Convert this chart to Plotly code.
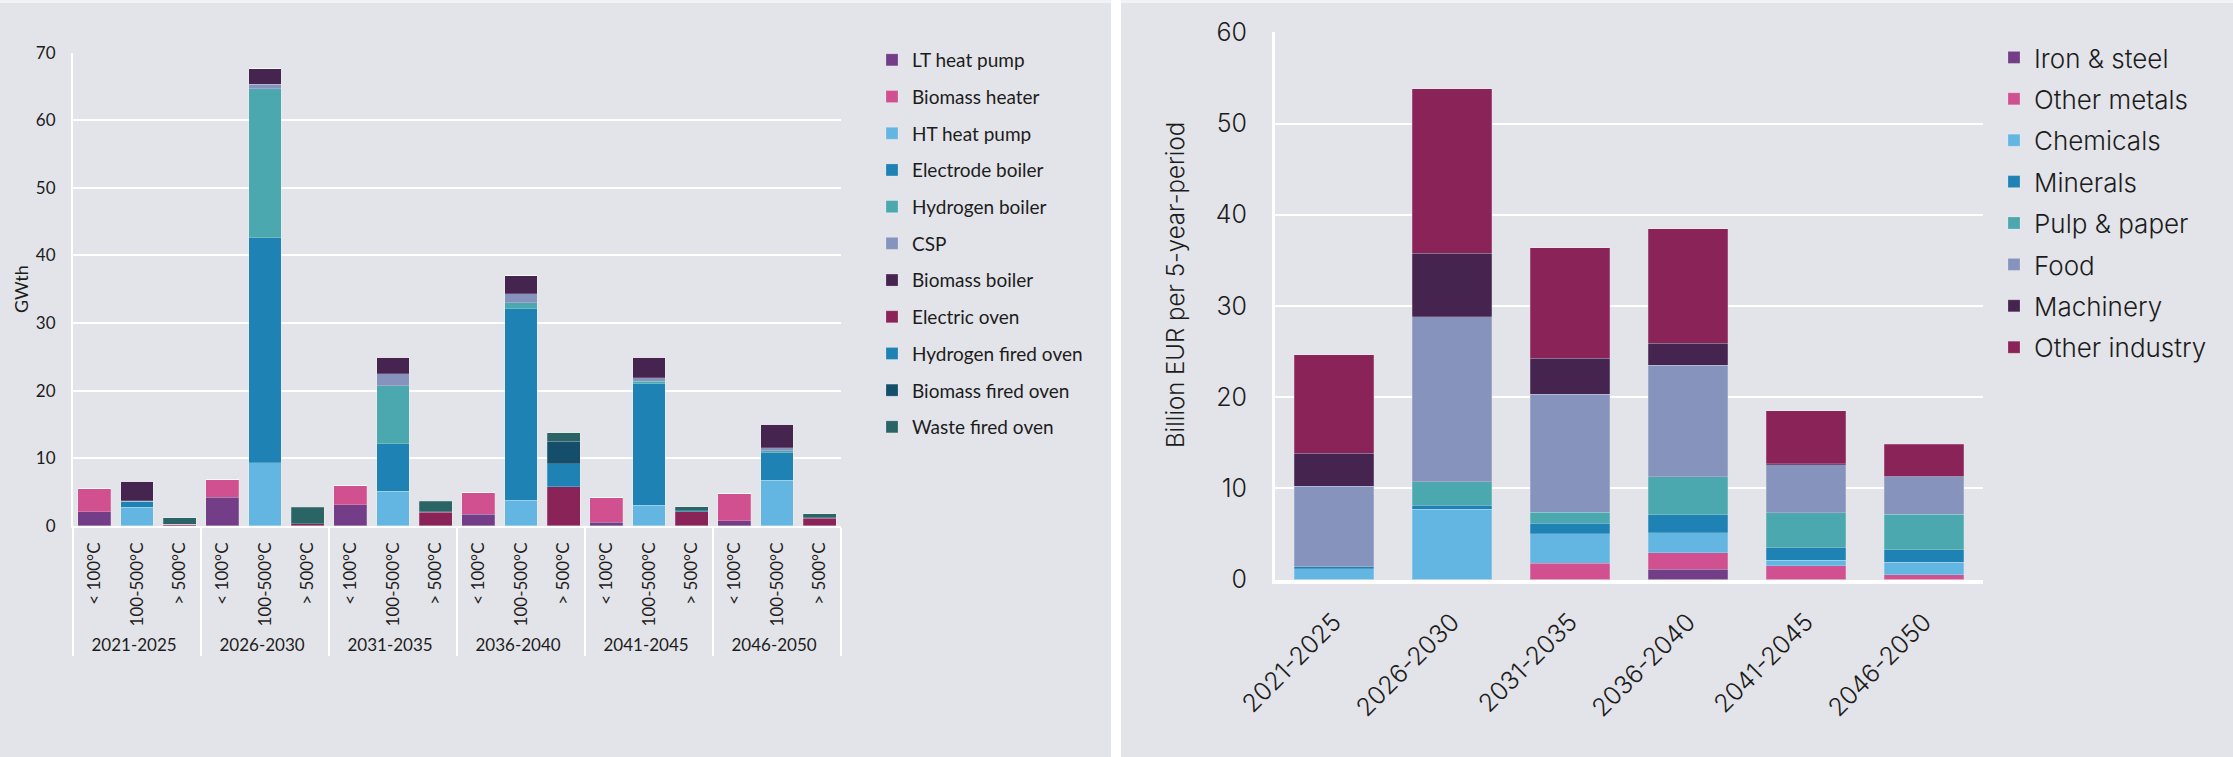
import plotly.graph_objects as go

W, H = 2233, 757

# ---------------- Left chart data (GWth) ----------------
periods = ["2021-2025", "2026-2030", "2031-2035", "2036-2040", "2041-2045", "2046-2050"]
temps = ["< 100°C", "100-500°C", "> 500°C"]

lt_heat_pump =        [2.1, 0, 0,   4.2, 0, 0,    3.1, 0, 0,    1.7, 0, 0,    0.5, 0, 0,    0.75, 0, 0]
biomass_heater =      [3.45, 0, 0,  2.6, 0, 0,    2.9, 0, 0,    3.15, 0, 0,   3.6, 0, 0,    3.95, 0, 0]
ht_heat_pump =        [0, 2.7, 0,   0, 9.3, 0,    0, 5.1, 0,    0, 3.8, 0,    0, 3.0, 0,    0, 6.75, 0]
electrode_boiler =    [0, 0.9, 0,   0, 33.3, 0,   0, 7.0, 0,    0, 28.3, 0,   0, 18.0, 0,   0, 4.05, 0]
hydrogen_boiler =     [0, 0, 0,     0, 22.1, 0,   0, 8.6, 0,    0, 0.9, 0,    0, 0.35, 0,   0, 0.3, 0]
csp =                 [0, 0.1, 0,   0, 0.6, 0,    0, 1.75, 0,   0, 1.3, 0,    0, 0.55, 0,   0, 0.45, 0]
biomass_boiler =      [0, 2.9, 0,   0, 2.3, 0,    0, 2.5, 0,    0, 2.7, 0,    0, 3.05, 0,   0, 3.5, 0]
electric_oven =       [0, 0, 0.2,   0, 0, 0.3,    0, 0, 2.0,    0, 0, 5.75,   0, 0, 2.1,    0, 0, 1.1]
hydrogen_fired_oven = [0, 0, 0,     0, 0, 0,      0, 0, 0.1,    0, 0, 3.45,   0, 0, 0.1,    0, 0, 0.1]
biomass_fired_oven =  [0, 0, 0,     0, 0, 0,      0, 0, 0,      0, 0, 3.3,    0, 0, 0,      0, 0, 0]
waste_fired_oven =    [0, 0, 0.95,  0, 0, 2.4,    0, 0, 1.5,    0, 0, 1.25,   0, 0, 0.6,    0, 0, 0.6]

# ---------------- Right chart data (Billion EUR per 5-year-period) ----------------
iron_steel =     [0, 0, 0, 1.15, 0, 0]
other_metals =   [0, 0, 1.8, 1.8, 1.5, 0.5]
chemicals =      [1.2, 7.7, 3.2, 2.2, 0.6, 1.4]
minerals =       [0.2, 0.45, 1.15, 1.95, 1.4, 1.35]
pulp_paper =     [0, 2.55, 1.25, 4.15, 3.8, 3.9]
food =           [8.85, 18.1, 12.9, 12.25, 5.3, 4.1]
machinery =      [3.6, 7.0, 3.95, 2.4, 0.1, 0.05]
other_industry = [10.8, 18.0, 12.15, 12.55, 5.8, 3.55]

C_PURPLE = "#733d87"
C_PINK = "#d05090"
C_LBLUE = "#63b6e2"
C_BLUE = "#1f82b4"
C_TEAL = "#4aa8ae"
C_LAV = "#8593bd"
C_DPURP = "#452450"
C_MAG = "#8a2458"
C_NAVY = "#144e6a"
C_DTEAL = "#2a6464"

left_series = [
    ("LT heat pump", lt_heat_pump, C_PURPLE),
    ("Biomass heater", biomass_heater, C_PINK),
    ("HT heat pump", ht_heat_pump, C_LBLUE),
    ("Electrode boiler", electrode_boiler, C_BLUE),
    ("Hydrogen boiler", hydrogen_boiler, C_TEAL),
    ("CSP", csp, C_LAV),
    ("Biomass boiler", biomass_boiler, C_DPURP),
    ("Electric oven", electric_oven, C_MAG),
    ("Hydrogen fired oven", hydrogen_fired_oven, C_BLUE),
    ("Biomass fired oven", biomass_fired_oven, C_NAVY),
    ("Waste fired oven", waste_fired_oven, C_DTEAL),
]

right_series = [
    ("Iron & steel", iron_steel, C_PURPLE),
    ("Other metals", other_metals, C_PINK),
    ("Chemicals", chemicals, C_LBLUE),
    ("Minerals", minerals, C_BLUE),
    ("Pulp & paper", pulp_paper, C_TEAL),
    ("Food", food, C_LAV),
    ("Machinery", machinery, C_DPURP),
    ("Other industry", other_industry, C_MAG),
]

outer = [p for p in periods for _ in temps]
inner = [t for _ in periods for t in temps]

BG = "#e3e4e9"
TXT = "#1c1c1c"
LEFT_FONT = "Lato"
RIGHT_FONT = "Inter"
EDGE = dict(width=0.8, color="rgba(255,255,255,0.25)")

fig = go.Figure()
for name, vals, col in left_series:
    fig.add_trace(go.Bar(
        x=[outer, inner], y=vals, name=name, marker=dict(color=col, line=EDGE),
        width=0.77, xaxis="x", yaxis="y", legend="legend", legendgroup="L_" + name,
    ))
for name, vals, col in right_series:
    fig.add_trace(go.Bar(
        x=periods, y=vals, name=name, marker=dict(color=col, line=EDGE),
        width=0.67, xaxis="x2", yaxis="y2", legend="legend2", legendgroup="R_" + name,
    ))

def fx(p):
    return p / W

def fy(p):
    return 1 - p / H

fig.update_layout(
    width=W, height=H,
    margin=dict(l=0, r=0, t=0, b=0, autoexpand=False),
    paper_bgcolor=BG, plot_bgcolor=BG,
    barmode="stack",
    showlegend=True,
    xaxis=dict(
        domain=[fx(73), fx(841)], anchor="y", type="multicategory", automargin=False,
        tickangle=-90, tickfont=dict(family=LEFT_FONT, size=17, color=TXT),
        showdividers=True, dividercolor="white", dividerwidth=2,
        showline=True, linecolor="white", linewidth=2, showgrid=False,
        ticks="", ticklabelstandoff=8,
    ),
    yaxis=dict(
        domain=[fy(525.7), fy(52.7)], anchor="x", range=[0, 70], dtick=10, automargin=False,
        showgrid=True, gridcolor="white", gridwidth=2, zeroline=False,
        showline=True, linecolor="white", linewidth=2,
        tickfont=dict(family=LEFT_FONT, size=17, color=TXT), ticks="",
        ticklabelstandoff=12,
    ),
    xaxis2=dict(
        domain=[fx(1275), fx(1983)], anchor="y2", type="category", automargin=False,
        tickangle=-45, tickfont=dict(family=RIGHT_FONT, size=25, color=TXT, weight=300),
        showline=True, linecolor="white", linewidth=4, showgrid=False,
        ticks="", ticklabelstandoff=14,
    ),
    yaxis2=dict(
        domain=[fy(579.5), fy(32.3)], anchor="x2", range=[0, 60], dtick=10, automargin=False,
        showgrid=True, gridcolor="white", gridwidth=2, zeroline=False,
        showline=True, linecolor="white", linewidth=3,
        tickfont=dict(family=RIGHT_FONT, size=25, color=TXT, weight=300), ticks="",
        ticklabelstandoff=20,
    ),
    legend=dict(
        x=fx(872), y=fy(41), xanchor="left", yanchor="top",
        font=dict(family=LEFT_FONT, size=19, color=TXT),
        traceorder="grouped", tracegroupgap=9, bgcolor="rgba(0,0,0,0)",
    ),
    legend2=dict(
        x=fx(1994), y=fy(34), xanchor="left", yanchor="top",
        font=dict(family=RIGHT_FONT, size=26, color=TXT, weight=300),
        traceorder="grouped", tracegroupgap=4.6, bgcolor="rgba(0,0,0,0)",
    ),
    annotations=[
        dict(text="GWth", x=fx(21), y=fy(289), xref="paper", yref="paper",
             xanchor="center", yanchor="middle",
             textangle=-90, showarrow=False, font=dict(family=LEFT_FONT, size=18, color=TXT)),
        dict(text="Billion EUR per 5-year-period", x=fx(1176), y=fy(285), xref="paper", yref="paper",
             xanchor="center", yanchor="middle",
             textangle=-90, showarrow=False,
             font=dict(family=RIGHT_FONT, size=24, color=TXT, weight=300)),
    ],
    shapes=[
        dict(type="rect", xref="paper", yref="paper", x0=fx(1111), x1=fx(1121), y0=0, y1=1,
             fillcolor="white", line=dict(width=0), layer="above"),
        dict(type="rect", xref="paper", yref="paper", x0=0, x1=1, y0=fy(3), y1=1,
             fillcolor="#f2f2f4", line=dict(width=0), layer="below"),
    ],
)

fig.write_html("out.html")
